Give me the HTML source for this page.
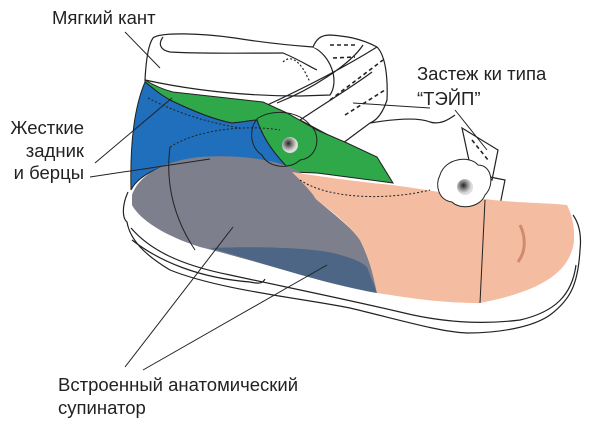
<!DOCTYPE html>
<html><head><meta charset="utf-8"><style>
html,body{margin:0;padding:0;background:#fff;width:600px;height:422px;overflow:hidden}
svg{display:block}
text{font-family:"Liberation Sans",sans-serif;fill:#222}
</style></head><body>
<svg width="600" height="422" viewBox="0 0 600 422" xmlns="http://www.w3.org/2000/svg">
<g fill="none" stroke="#222" stroke-width="1.2">
<!-- sole -->
<path d="M128,192 C122,205 122,218 127,222 C130,240 145,255 170,270 C220,290 300,298 350,308 C400,320 440,332 467,333 C500,333 533,327 550,315 C570,300 578,285 580,250 C582,232 578,222 573,215" fill="#fff"/>
<path d="M131,228 C150,250 180,265 230,275 C290,288 340,298 400,312 C440,322 480,325 520,320 C555,312 572,295 576,265"/>
<path d="M132,240 C160,262 200,278 250,282 C255,283 262,285 265,279"/>
<!-- collar -->
<path d="M145,80 C146,60 148,45 153,38 C160,32 200,33 235,38 C260,42 285,45 313,47 C330,55 340,80 330,95 L300,96 C250,96 200,92 145,80 Z" fill="#fff"/>
<path d="M163,37 C158,44 160,50 170,52 C200,54 250,53 283,53 C300,60 312,68 317,70"/>
<path d="M283,62 C290,55 298,60 305,72 L310,82" stroke-dasharray="2,2"/>
<!-- back strap loop -->
<path d="M313,47 C316,40 320,35 330,35 C345,36 360,38 377,47 C385,55 388,75 387,100 C383,112 378,120 370,123 L343,143 L300,120 C330,100 355,85 372,72" fill="#fff"/>
<path d="M263,107 C300,90 340,70 377,47 M277,103 C310,90 350,65 363,45"/>
<path d="M330,45 L355,45 M333,58 L355,57" stroke-dasharray="4,3" stroke-width="1.6"/>
<path d="M330,100 L383,60 M345,115 L385,90" stroke-dasharray="4,3" stroke-width="1.6"/>
<path d="M370,123 C400,118 420,118 430,122 C440,125 448,120 455,115"/>
<!-- front strap -->
<path d="M462,128 L498,150 L492,180 L470,165 Z" fill="#fff"/>
<path d="M472,140 L488,160" stroke-dasharray="4,3" stroke-width="1.6"/>
<path d="M490,177 L505,180 L500,205"/>
</g>
<!-- green -->
<path d="M145,80 C155,86 165,90 173,92 L263,102 L287,113 L317,130 L347,143 L377,157 L393,183 L317,173 L292,172 C270,150 262,135 257,120 C252,120 245,122 232,123 C215,120 195,112 172,101 C162,96 155,90 145,82 Z" fill="#2fa84a" stroke="#222" stroke-width="1"/>
<!-- blue -->
<path d="M145,82 C155,90 162,96 172,101 C195,112 215,120 232,123 C245,122 252,120 257,120 C262,135 270,150 292,172 L200,158 C170,162 140,172 131,190 C130,150 133,110 145,82 Z" fill="#1f6fbd" stroke="#222" stroke-width="1"/>
<path d="M148,98 C175,112 205,122 240,128" fill="none" stroke="#222" stroke-width="1" stroke-dasharray="2,2"/>
<!-- grey -->
<path d="M132,195 C140,172 170,160 200,157 C240,154 280,160 300,172 C310,185 312,195 317,200 C335,215 352,228 360,240 C370,260 375,280 377,293 C330,285 260,262 200,247 C165,236 140,220 132,205 Z" fill="#7d7f8c"/>
<path d="M210,248 C260,246 310,248 333,253 C350,257 362,262 367,267 L377,293 C320,283 260,262 210,248 Z" fill="#4d6685"/>
<!-- peach -->
<path d="M292,172 C330,178 360,182 392,185 C430,190 460,196 493,200 C520,203 550,203 567,205 C575,220 575,240 573,247 C570,258 565,265 560,270 C545,285 520,295 480,303 C440,303 410,298 377,293 C372,270 368,255 360,240 C350,225 330,210 317,200 C310,190 300,180 292,172 Z" fill="#f4bca0"/>
<g fill="none" stroke="#222" stroke-width="1">
<path d="M170,147 C200,128 250,125 280,130" stroke-dasharray="2,2"/>
<path d="M170,147 C165,185 175,220 195,250"/>
<path d="M300,180 C330,200 390,200 430,190" stroke-dasharray="2,2"/>
<path d="M485,200 L480,303"/>
<path d="M520,225 C525,235 527,250 518,262" stroke="#d08a70" stroke-width="3"/>
</g>
<!-- flowers -->
<path d="M258,118 C275,108 300,112 310,125 C322,135 318,158 300,160 C290,170 268,168 262,155 C250,148 248,128 258,118 Z" fill="none" stroke="#222" stroke-width="1"/>
<path d="M440,175 C445,158 470,155 478,165 C492,165 495,185 485,195 C480,208 460,210 452,202 C438,200 435,185 440,175 Z" fill="#fff" stroke="#222" stroke-width="1"/>
<defs><radialGradient id="b" cx="40%" cy="40%"><stop offset="0" stop-color="#222"/><stop offset=".6" stop-color="#999"/><stop offset="1" stop-color="#ddd"/></radialGradient></defs>
<circle cx="290" cy="145" r="8" fill="url(#b)"/>
<circle cx="465" cy="187" r="8" fill="url(#b)"/>
<!-- leader lines -->
<g stroke="#222" stroke-width="1">
<line x1="125" y1="32" x2="160" y2="68"/>
<line x1="95" y1="163" x2="172" y2="98"/>
<line x1="90" y1="177" x2="210" y2="159"/>
<line x1="430" y1="108" x2="353" y2="103"/>
<line x1="455" y1="110" x2="487" y2="150"/>
<line x1="125" y1="367" x2="233" y2="227"/>
<line x1="143" y1="370" x2="327" y2="265"/>
</g>
<text x="52" y="24" font-size="18.5">Мягкий кант</text>
<text x="84" y="134" font-size="18.5" text-anchor="end">Жесткие</text>
<text x="84" y="157" font-size="18.5" text-anchor="end">задник</text>
<text x="84" y="179" font-size="18.5" text-anchor="end">и берцы</text>
<text x="417" y="80" font-size="18.5">Застеж ки типа</text>
<text x="417" y="105" font-size="18.5">“ТЭЙП”</text>
<text x="58" y="391" font-size="18.5">Встроенный анатомический</text>
<text x="58" y="414" font-size="18.5">супинатор</text>
</svg>
</body></html>
